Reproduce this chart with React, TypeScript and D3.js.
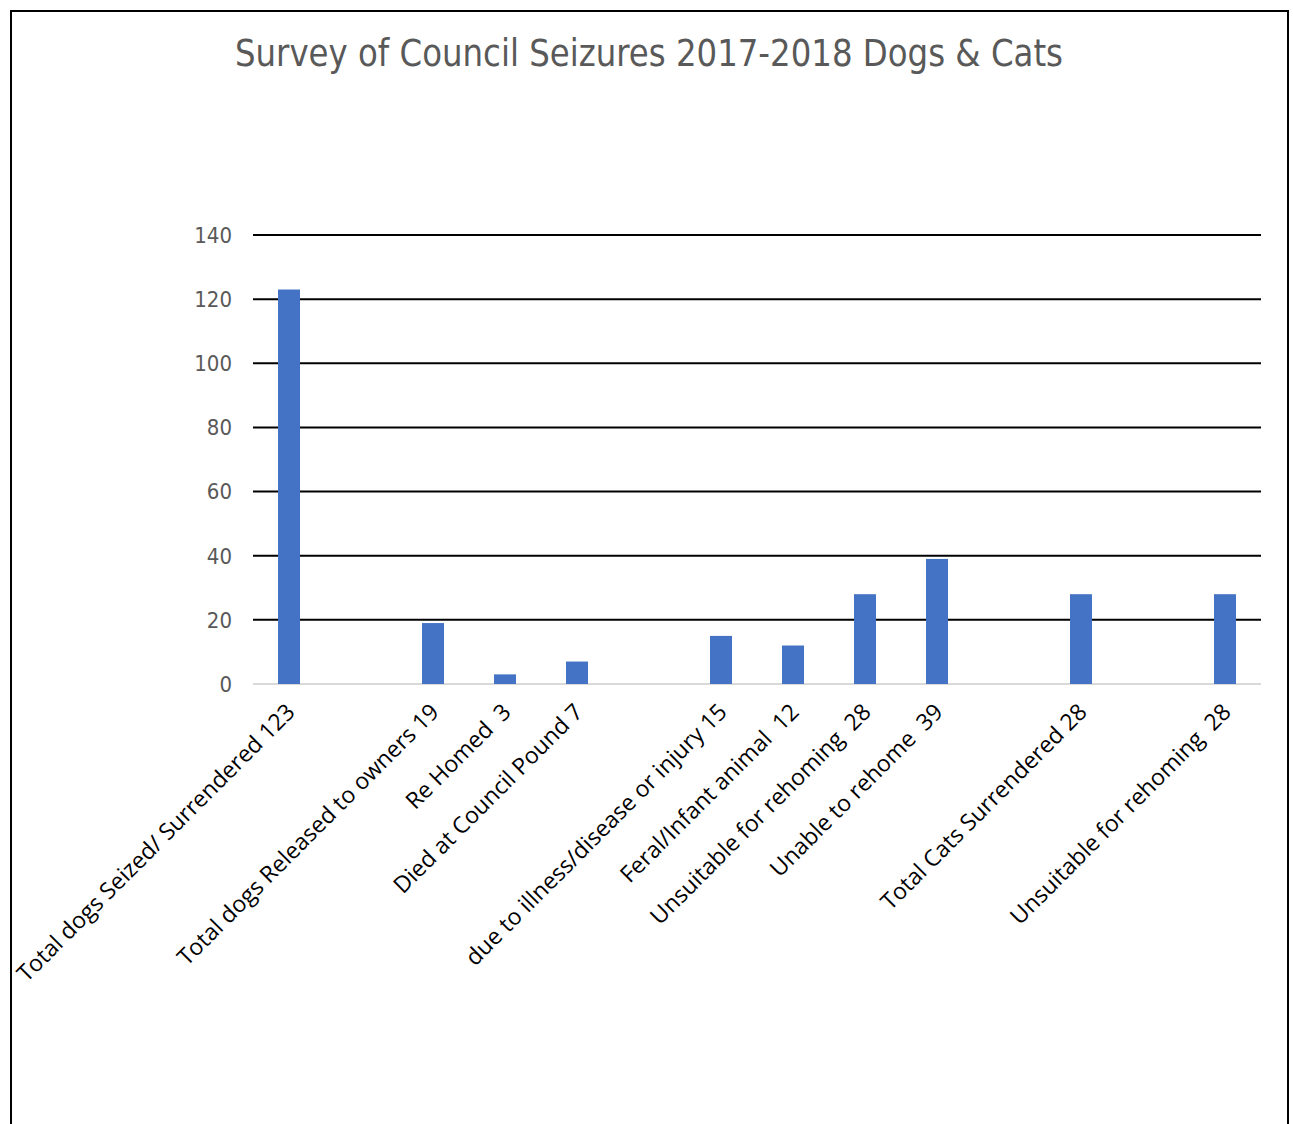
import React from "react";
import * as d3 from "d3";

const categories: string[] = [
  "Total dogs Seized/ Surrendered 123",
  "",
  "Total dogs Released to owners 19",
  "Re Homed  3",
  "Died at Council Pound 7",
  "",
  "due to illness/disease or injury 15",
  "Feral/Infant animal  12",
  "Unsuitable for rehoming  28",
  "Unable to rehome  39",
  "",
  "Total Cats Surrendered 28",
  "",
  "Unsuitable for rehoming  28",
];
const values: (number | null)[] = [123, null, 19, 3, 7, null, 15, 12, 28, 39, null, 28, null, 28];
const yTicks: number[] = [0, 20, 40, 60, 80, 100, 120, 140];
const title = "Survey of Council Seizures 2017-2018 Dogs & Cats";

export default function App() {
  const W = 1293, H = 1124;
  const left = 253, right = 1261, top = 235, bottom = 684;
  const x = d3.scaleBand<number>().domain(categories.map((_, i) => i)).range([left, right]).padding(0);
  const y = d3.scaleLinear().domain([0, 140]).range([bottom, top]);
  const barW = 22;
  return (
    <svg width={W} height={H} style={{ position: "absolute", left: 0, top: 0 }}>
      <rect x={0} y={0} width={W} height={H} fill="#fff" />
      <path d={`M11,${H + 5} V11 H1288 V${H + 5}`} fill="none" stroke="#000" strokeWidth={2} />
      <text x={235} y={66} textLength={828} lengthAdjust="spacingAndGlyphs" fontFamily="'DejaVu Sans Condensed', 'DejaVu Sans'" fontStretch="condensed" fontSize={37} fill="#595959">{title}</text>
      {yTicks.map((t) => (
        <g key={t}>
          <line x1={left} x2={right} y1={y(t)} y2={y(t)} stroke={t === 0 ? "#d9d9d9" : "#000"} strokeWidth={2} />
          <text x={232} y={y(t)} dy="0.36em" textAnchor="end" fontFamily="'DejaVu Sans Condensed', 'DejaVu Sans'" fontStretch="condensed" fontSize={22} fill="#595959">{t}</text>
        </g>
      ))}
      {values.map((v, i) =>
        v == null ? null : (
          <rect key={i} x={(x(i) as number) + x.bandwidth() / 2 - barW / 2} y={y(v)} width={barW} height={y(0) - y(v)} fill="#4472c4" />
        )
      )}
      {categories.map((c, i) => {
        if (!c) return null;
        const cx = (x(i) as number) + x.bandwidth() / 2;
        return (
          <text key={i} transform={`translate(${cx - 4},${702}) rotate(-45)`} textAnchor="end" dy="0.7em" fontFamily="'Open Sans'" fontSize={23} fill="#000" style={{ whiteSpace: "pre" }}>{c}</text>
        );
      })}
    </svg>
  );
}
